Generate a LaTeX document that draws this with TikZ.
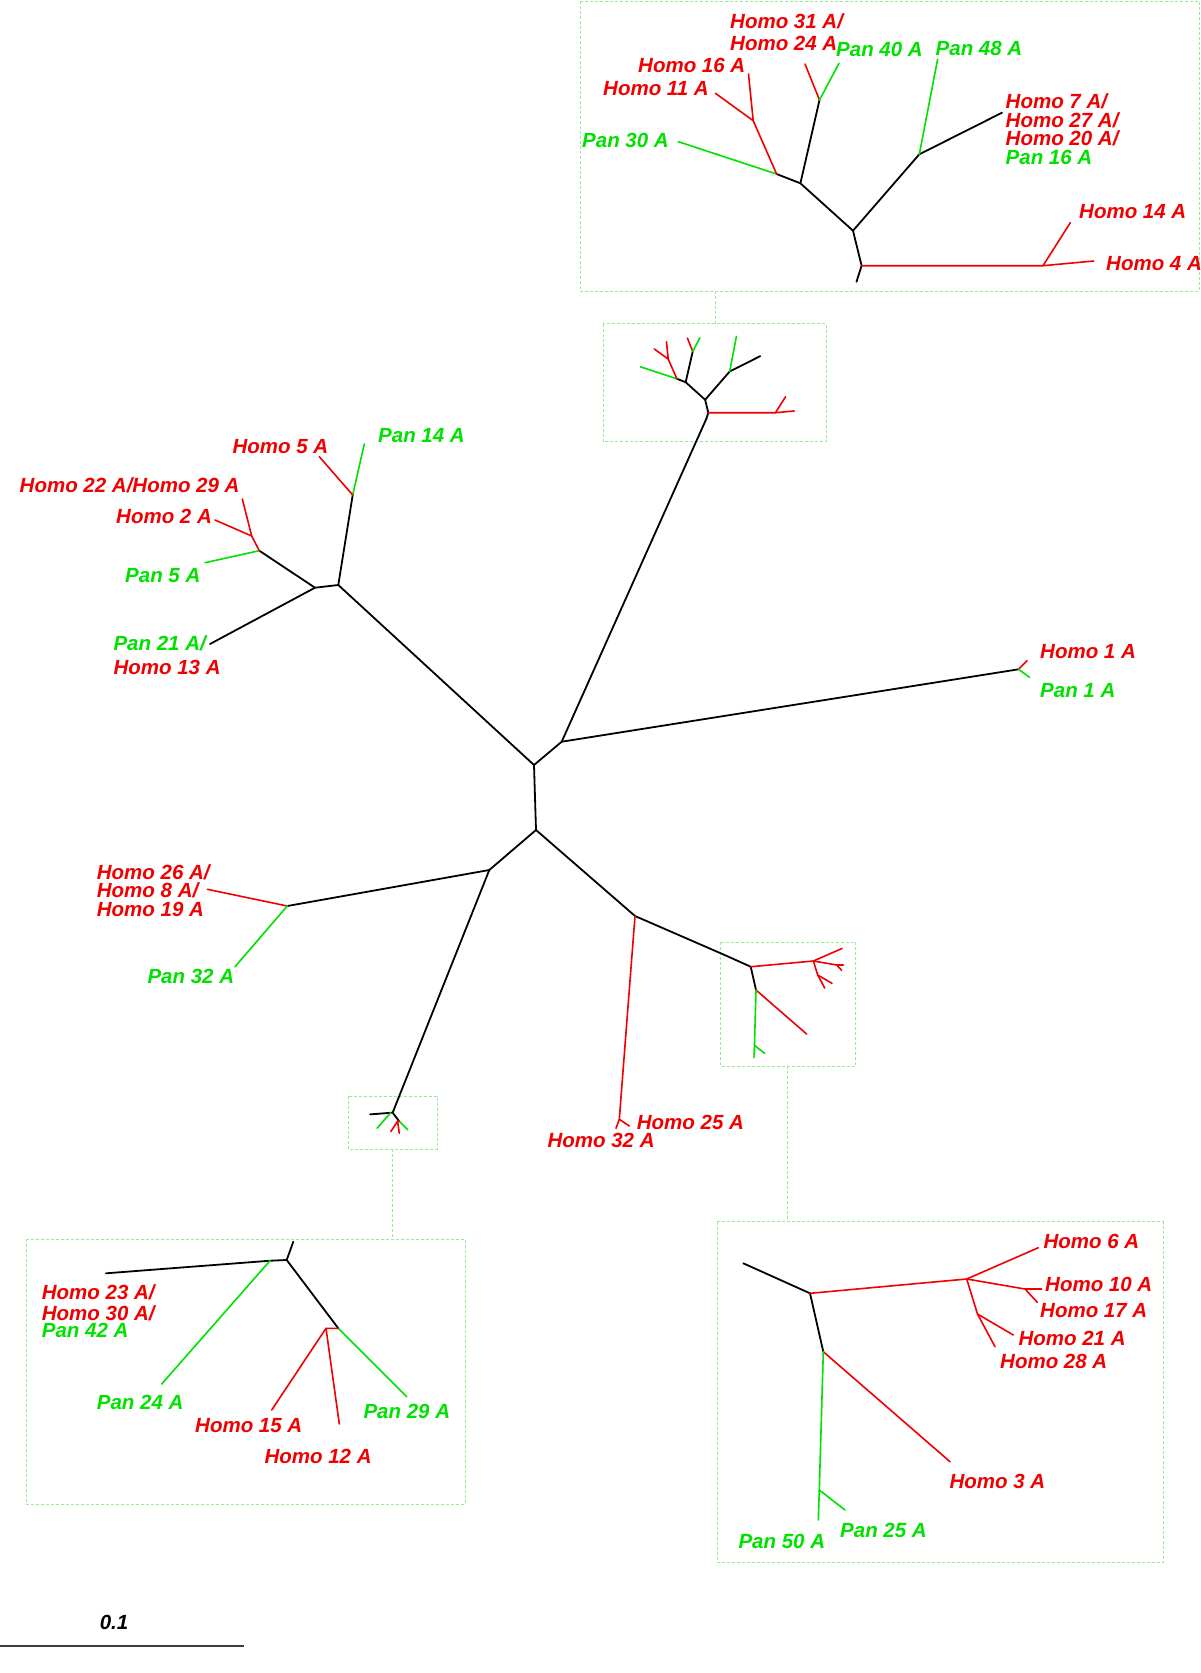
\documentclass[tikz,border=0pt]{standalone}
\usepackage{fontspec}
\setmainfont{Liberation Sans}
\definecolor{hred}{RGB}{240,0,0}
\definecolor{pgrn}{RGB}{0,225,0}
\definecolor{bgrn}{RGB}{150,235,150}
\definecolor{sbar}{RGB}{60,60,60}
\tikzset{
 br/.style={line width=1.6pt, line cap=round, line join=round},
 blk/.style={br, black, line width=1.8pt},
 rd/.style={br, hred},
 gn/.style={br, pgrn},
 dbox/.style={draw=bgrn, line width=0.9pt, dash pattern=on 3pt off 2pt},
 lab/.style={inner sep=0pt, anchor=base west, font=\bfseries\itshape\fontsize{20.5}{19}\selectfont},
 hl/.style={lab, text=hred},
 pl/.style={lab, text=pgrn},
}
\newcommand\TopTree[1]{%
 \coordinate (#1root) at (856.5,281.7);
 \coordinate (#1A) at (861.6,265.7);
 \coordinate (#1R) at (1043,265.7);
 \coordinate (#1h14) at (1070.3,222.7);
 \coordinate (#1h4) at (1093.7,261);
 \coordinate (#1B) at (853,230.7);
 \coordinate (#1C) at (919.3,154.3);
 \coordinate (#1p48) at (937.6,59.3);
 \coordinate (#1h7) at (1002,112.7);
 \coordinate (#1D) at (800.4,183.3);
 \coordinate (#1E) at (819.5,100);
 \coordinate (#1h31) at (805,64);
 \coordinate (#1p40) at (839,63.3);
 \coordinate (#1F) at (776.6,174);
 \coordinate (#1p30) at (678.3,141.7);
 \coordinate (#1G) at (753.2,120.7);
 \coordinate (#1h16) at (748.5,74);
 \coordinate (#1h11) at (715.4,93.3);
 \draw[blk] (#1root) -- (#1A) -- (#1B) -- (#1C) -- (#1h7);
 \draw[blk] (#1B) -- (#1D) -- (#1E);
 \draw[blk] (#1D) -- (#1F);
 \draw[rd] (#1A) -- (#1R) -- (#1h14);
 \draw[rd] (#1R) -- (#1h4);
 \draw[gn] (#1C) -- (#1p48);
 \draw[rd] (#1E) -- (#1h31);
 \draw[gn] (#1E) -- (#1p40);
 \draw[gn] (#1F) -- (#1p30);
 \draw[rd] (#1F) -- (#1G) -- (#1h16);
 \draw[rd] (#1G) -- (#1h11);
}
\newcommand\LLTree[1]{%
 \coordinate (#1top) at (293.3,1241.7);
 \coordinate (#1N1) at (286.7,1260);
 \coordinate (#1X) at (270,1260.7);
 \coordinate (#1h23) at (106,1273.3);
 \coordinate (#1p24) at (161.7,1384);
 \coordinate (#1N2) at (338.3,1328.3);
 \coordinate (#1p29) at (406.7,1396.7);
 \coordinate (#1N3) at (326,1328.3);
 \coordinate (#1h15) at (271.7,1410);
 \coordinate (#1h12) at (339.3,1424);
 \draw[blk] (#1top) -- (#1N1) -- (#1X) -- (#1h23);
 \draw[blk] (#1N1) -- (#1N2);
 \draw[gn] (#1X) -- (#1p24);
 \draw[gn] (#1N2) -- (#1p29);
 \draw[rd] (#1N2) -- (#1N3) -- (#1h15);
 \draw[rd] (#1N3) -- (#1h12);
}
\newcommand\LRTree[1]{%
 \coordinate (#1top) at (743.3,1263.3);
 \coordinate (#1Q1) at (810,1293.3);
 \coordinate (#1Q2) at (966.7,1279);
 \coordinate (#1h6) at (1038.3,1247.7);
 \coordinate (#1R) at (1025,1289);
 \coordinate (#1h10) at (1041.7,1289);
 \coordinate (#1h17) at (1037.3,1302.3);
 \coordinate (#1R2) at (977.5,1314);
 \coordinate (#1h21) at (1013.3,1335);
 \coordinate (#1h28) at (995,1346.7);
 \coordinate (#1Q3) at (823.3,1351.7);
 \coordinate (#1h3) at (950,1461.7);
 \coordinate (#1Q4) at (819.3,1490);
 \coordinate (#1p50) at (818.3,1520);
 \coordinate (#1p25) at (845,1510);
 \draw[blk] (#1top) -- (#1Q1) -- (#1Q3);
 \draw[rd] (#1Q1) -- (#1Q2) -- (#1h6);
 \draw[rd] (#1Q2) -- (#1R) -- (#1h10);
 \draw[rd] (#1R) -- (#1h17);
 \draw[rd] (#1Q2) -- (#1R2) -- (#1h21);
 \draw[rd] (#1R2) -- (#1h28);
 \draw[rd] (#1Q3) -- (#1h3);
 \draw[gn] (#1Q3) -- (#1Q4) -- (#1p50);
 \draw[gn] (#1Q4) -- (#1p25);
}
\begin{document}
\begin{tikzpicture}[x=1pt,y=-1pt]
\useasboundingbox[fill=white] (0,0) rectangle (1200,1673);
% dashed boxes
\draw[dbox] (580,1) rectangle (1199,291);
\draw[dbox] (603,323.5) rectangle (826,441.6);
\draw[dbox] (720.5,942.3) rectangle (855.6,1066.2);
\draw[dbox] (348,1096) rectangle (437,1149);
\draw[dbox] (26.7,1239) rectangle (465,1504.5);
\draw[dbox] (717,1221.5) rectangle (1163,1562);
\coordinate (ca1) at (715,291);   \coordinate (ca2) at (715,323.5);
\coordinate (cb1) at (392.5,1149); \coordinate (cb2) at (392.5,1239);
\coordinate (cc1) at (787.5,1066.2); \coordinate (cc2) at (787.5,1221.5);
\draw[dbox] (ca1) -- (ca2);
\draw[dbox] (cb1) -- (cb2);
\draw[dbox] (cc1) -- (cc2);
% enlarged subtrees
\TopTree{t}
\LLTree{l}
\LRTree{r}
% small copies
\begin{scope}[shift={(708.3,412.7)},scale=0.37,shift={(-861.6,-265.7)}]
\TopTree{s}
\end{scope}
\begin{scope}[shift={(392.7,1112.7)},scale=0.125,shift={(-286.7,-1260)}]
\LLTree{sl}
\end{scope}
\begin{scope}[shift={(750.7,966.7)},scale=0.4,shift={(-810,-1293.3)}]
\LRTree{sr}
\end{scope}
% main tree
\coordinate (M1) at (534,765);
\coordinate (M2) at (561.7,741.7);
\coordinate (M3) at (536,830);
\coordinate (S) at (489.3,870);
\coordinate (P) at (635,916);
\coordinate (I) at (338.3,585);
\coordinate (J) at (315,587.7);
\coordinate (H) at (352.7,495);
\coordinate (p14) at (364.3,444);
\coordinate (h5) at (319.3,456.7);
\coordinate (K) at (259.3,550.7);
\coordinate (p5) at (205,562.7);
\coordinate (L) at (251.7,536);
\coordinate (h22) at (242.3,499);
\coordinate (h2) at (215,520);
\coordinate (p21) at (210,644);
\coordinate (N) at (1018.5,669.3);
\coordinate (h1) at (1027,660.7);
\coordinate (p1) at (1029.5,677.3);
\coordinate (T) at (287.3,906);
\coordinate (h26) at (207.3,889.3);
\coordinate (p32) at (235,966.7);
\coordinate (U) at (619.3,1119.3);
\coordinate (h32) at (616,1128.3);
\coordinate (h25) at (629.3,1126);
\draw[blk] (I) -- (M1) -- (M2) -- (N);
\draw[blk] (M2) -- (sroot);
\draw[blk] (M1) -- (M3) -- (P) -- (srtop);
\draw[blk] (M3) -- (S) -- (T);
\draw[blk] (S) -- (sltop);
\draw[blk] (J) -- (I) -- (H);
\draw[blk] (p21) -- (J) -- (K);
\draw[gn] (H) -- (p14);
\draw[rd] (H) -- (h5);
\draw[gn] (K) -- (p5);
\draw[rd] (K) -- (L) -- (h22);
\draw[rd] (L) -- (h2);
\draw[rd] (N) -- (h1);
\draw[gn] (N) -- (p1);
\draw[rd] (T) -- (h26);
\draw[gn] (T) -- (p32);
\draw[rd] (P) -- (U) -- (h32);
\draw[rd] (U) -- (h25);
% labels: top box
\node[hl] (Lh31) at (730,28.5) {Homo 31 A/};
\node[hl] (Lh24) at (730,50.5) {Homo 24 A};
\node[pl] (Lp40) at (836,56.5) {Pan 40 A};
\node[pl] (Lp48) at (935.5,55.3) {Pan 48 A};
\node[hl] (Lh16) at (638,72) {Homo 16 A};
\node[hl] (Lh11) at (603,95.3) {Homo 11 A};
\node[pl] (Lp30) at (582,147) {Pan 30 A};
\node[hl] (Lh7) at (1005.5,108) {Homo 7 A/};
\node[hl] (Lh27) at (1005.5,127) {Homo 27 A/};
\node[hl] (Lh20) at (1005.5,145.5) {Homo 20 A/};
\node[pl] (Lp16) at (1005.5,164.5) {Pan 16 A};
\node[hl] (Lh14) at (1079,218) {Homo 14 A};
\node[hl] (Lh4) at (1106,270) {Homo 4 A};
% left upper
\node[pl] (Lp14) at (378,442) {Pan 14 A};
\node[hl] (Lh5) at (232.3,453) {Homo 5 A};
\node[hl] (Lh22) at (19.5,492) {Homo 22 A/Homo 29 A};
\node[hl] (Lh2) at (116,523.7) {Homo 2 A};
\node[pl] (Lp5) at (125,582) {Pan 5 A};
\node[pl] (Lp21) at (113.3,650) {Pan 21 A/};
\node[hl] (Lh13) at (113.3,674.5) {Homo 13 A};
% right
\node[hl] (Lh1) at (1040,658) {Homo 1 A};
\node[pl] (Lp1) at (1040,697.5) {Pan 1 A};
% left middle
\node[hl] (Lh26) at (96.7,879.3) {Homo 26 A/};
\node[hl] (Lh8) at (96.7,897.7) {Homo 8 A/};
\node[hl] (Lh19) at (96.7,916.3) {Homo 19 A};
\node[pl] (Lp32) at (147.3,983.7) {Pan 32 A};
% centre bottom
\node[hl] (Lh25) at (636.7,1129.7) {Homo 25 A};
\node[hl] (Lh32) at (547.3,1147) {Homo 32 A};
% lower-left box
\node[hl] (Lh23) at (41.7,1299.5) {Homo 23 A/};
\node[hl] (Lh30) at (41.7,1320) {Homo 30 A/};
\node[pl] (Lp42) at (41.7,1337.5) {Pan 42 A};
\node[pl] (Lp24) at (96.7,1409.7) {Pan 24 A};
\node[hl] (Lh15) at (195,1432) {Homo 15 A};
\node[hl] (Lh12) at (264.3,1463) {Homo 12 A};
\node[pl] (Lp29) at (363.3,1418.7) {Pan 29 A};
% lower-right box
\node[hl] (Lh6) at (1043.3,1248.7) {Homo 6 A};
\node[hl] (Lh10) at (1045,1291.3) {Homo 10 A};
\node[hl] (Lh17) at (1040,1317) {Homo 17 A};
\node[hl] (Lh21) at (1018.3,1345.3) {Homo 21 A};
\node[hl] (Lh28) at (1000,1368.7) {Homo 28 A};
\node[hl] (Lh3) at (949.3,1488.7) {Homo 3 A};
\node[pl] (Lp25) at (840,1537) {Pan 25 A};
\node[pl] (Lp50) at (738.3,1548) {Pan 50 A};
% scale bar
\coordinate (sb1) at (0,1646);
\coordinate (sb2) at (244,1646);
\draw[sbar, line width=2.5pt] (sb1) -- (sb2);
\node[lab, anchor=base, text=black] (sbl) at (114,1629) {0.1};
\end{tikzpicture}
\end{document}
